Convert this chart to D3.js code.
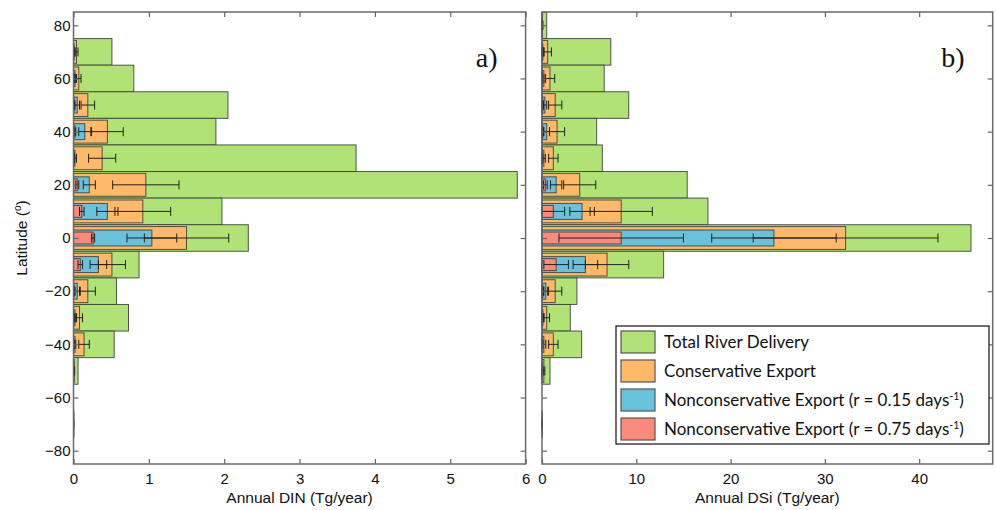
<!DOCTYPE html>
<html><head><meta charset="utf-8">
<script src="https://cdn.jsdelivr.net/npm/d3@7"></script>
<style>body{margin:0;background:#fff}svg{display:block}</style>
</head><body>
<svg id="c" width="996" height="510"></svg>
<script>
// ---- data ----
const latitudes = [80,70,60,50,40,30,20,10,0,-10,-20,-30,-40,-50,-60,-70];
// Panel a) DIN (Tg/year)
const dinTotal   = [0, 0.51, 0.80, 2.05, 1.89, 3.75, 5.89, 1.97, 2.32, 0.87, 0.57, 0.73, 0.54, 0.06, 0, 0.005];
const dinCons    = [0, 0.04, 0.07, 0.19, 0.45, 0.38, 0.96, 0.92, 1.50, 0.51, 0.19, 0.08, 0.14, 0.01, 0, 0.002];
const dinNc015   = [0, 0.01, 0.02, 0.05, 0.15, 0.02, 0.21, 0.45, 1.04, 0.33, 0.05, 0.02, 0.02, 0.005, 0, 0.001];
const dinNc075   = [0, 0.005, 0.005, 0.01, 0.02, 0.01, 0.05, 0.11, 0.26, 0.09, 0.01, 0.005, 0.005, 0, 0, 0];
const dinConsErr = [0, 0.02, 0.03, 0.09, 0.21, 0.18, 0.44, 0.37, 0.56, 0.18, 0.10, 0.04, 0.07, 0.005, 0, 0.002];
const dinNc015Err= [0, 0.01, 0.01, 0.03, 0.08, 0.02, 0.08, 0.14, 0.33, 0.11, 0.03, 0.01, 0.01, 0, 0, 0];
const dinNc075Err= [0, 0.003, 0.003, 0.005, 0.01, 0.005, 0.02, 0.03, 0.02, 0.03, 0.005, 0.003, 0.003, 0, 0, 0];
// Panel b) DSi (Tg/year)
const dsiTotal   = [0.5, 7.3, 6.6, 9.2, 5.8, 6.4, 15.4, 17.6, 45.5, 12.9, 3.7, 3.0, 4.2, 0.85, 0, 0.05];
const dsiCons    = [0.05, 0.6, 0.85, 1.4, 1.6, 1.2, 4.0, 8.4, 32.2, 6.9, 1.4, 0.5, 1.2, 0.2, 0, 0.02];
const dsiNc015   = [0.02, 0.1, 0.2, 0.3, 0.5, 0.2, 1.5, 4.25, 24.6, 4.6, 0.4, 0.1, 0.2, 0.05, 0, 0.01];
const dsiNc075   = [0.01, 0.05, 0.05, 0.1, 0.1, 0.05, 0.35, 1.2, 8.4, 1.5, 0.1, 0.05, 0.05, 0.01, 0, 0];
const dsiConsErr = [0.05, 0.4, 0.5, 0.7, 0.8, 0.5, 1.7, 3.3, 9.8, 2.3, 0.7, 0.3, 0.5, 0.1, 0, 0.02];
const dsiNc015Err= [0.02, 0.1, 0.15, 0.2, 0.3, 0.15, 0.6, 1.3, 6.6, 1.3, 0.2, 0.1, 0.2, 0.05, 0, 0];
const dsiNc075Err= [0, 0.05, 0.05, 0.05, 0.05, 0.05, 0.2, 1.2, 6.6, 1.3, 0.05, 0.05, 0.05, 0, 0, 0];

const yTicks = [-80,-60,-40,-20,0,20,40,60,80];
const dinTicks = [0,1,2,3,4,5,6];
const dsiTicks = [0,10,20,30,40];
const seriesNames = ["Total River Delivery","Conservative Export","Nonconservative Export (r = 0.15 days","Nonconservative Export (r = 0.75 days"];
const colors = ["#b0e276","#ffb968","#68c2dc","#fa8a7a"];

// ---- drawing ----
const svg = d3.select("#c");
const plotTop = 12, plotBottom = 464;
const y = d3.scaleLinear().domain([-85,85]).range([plotBottom, plotTop]);
const halfH = [5, 4.3, 3.0, 2.25]; // bar half-heights in degrees

function panel(x0, x1, xmax, ticks, series, errs, xlabel, tag, showY) {
  const x = d3.scaleLinear().domain([0, xmax]).range([x0, x1]);
  const g = svg.append("g");
  series.forEach((vals, si) => {
    g.selectAll(null).data(latitudes.map((l,i)=>({l, v: vals[i]})).filter(d=>d.v>0))
      .join("rect")
      .attr("x", x(0))
      .attr("y", d => y(d.l + halfH[si]))
      .attr("width", d => x(d.v) - x(0))
      .attr("height", d => y(d.l - halfH[si]) - y(d.l + halfH[si]))
      .attr("fill", colors[si])
      .attr("stroke", "#3a3a3a").attr("stroke-opacity", 0.85).attr("stroke-width", 1);
  });
  const cap = 4.5;
  [[series[3], errs[2]], [series[2], errs[1]], [series[1], errs[0]]].forEach(([vals, e]) => {
    const data = latitudes.map((l,i)=>({l, v: vals[i], e: e[i]})).filter(d=>d.v>0 && d.e>0);
    const eg = g.append("g").attr("stroke", "#222").attr("stroke-width", 1).attr("fill","none");
    eg.selectAll(null).data(data).join("path")
      .attr("d", d => {
        const yy = y(d.l), a = x(Math.max(0, d.v - d.e)), b = x(d.v + d.e);
        return `M${a},${yy}H${b}M${a},${yy-cap}V${yy+cap}M${b},${yy-cap}V${yy+cap}`;
      });
  });
  const fontAx = "15px 'Liberation Sans', Arial, sans-serif";
  const ax = g.append("g").attr("transform", `translate(0,${plotBottom})`)
    .call(d3.axisBottom(x).tickValues(ticks).tickSizeInner(-5).tickSizeOuter(0).tickPadding(9).tickFormat(d3.format("d")));
  const axt = g.append("g").attr("transform", `translate(0,${plotTop})`)
    .call(d3.axisTop(x).tickValues(ticks).tickSizeInner(-5).tickSizeOuter(0).tickFormat(""));
  const ayl = g.append("g").attr("transform", `translate(${x0},0)`)
    .call(d3.axisLeft(y).tickValues(yTicks).tickSizeInner(-5).tickSizeOuter(0).tickPadding(3)
      .tickFormat(showY ? (d => d < 0 ? "\u2212" + Math.abs(d) : d) : ""));
  const ayr = g.append("g").attr("transform", `translate(${x1},0)`)
    .call(d3.axisRight(y).tickValues(yTicks).tickSizeInner(-5).tickSizeOuter(0).tickFormat(""));
  [ax, axt, ayl, ayr].forEach(a => {
    a.select(".domain").remove();
    a.selectAll("line").attr("stroke", "#666").attr("stroke-width", 1.2);
    a.selectAll("text").style("font", fontAx).attr("fill", "#111");
  });
  ax.selectAll("text").attr("dy", "0.71em");
  g.append("rect").attr("x", x0).attr("y", plotTop).attr("width", x1 - x0).attr("height", plotBottom - plotTop)
    .attr("fill", "none").attr("stroke", "#6a6a6a").attr("stroke-width", 1.5);
  g.append("text").attr("x", (x0 + x1) / 2).attr("y", 503).attr("text-anchor", "middle")
    .style("font", "15.5px 'Liberation Sans', Arial, sans-serif").attr("fill", "#111").text(xlabel);
  g.append("text").attr("x", x1 - 28).attr("y", 67).attr("text-anchor", "end")
    .style("font", "28px 'Liberation Serif', 'Times New Roman', serif").attr("fill", "#111").text(tag);
  return x;
}

panel(73.5, 525.6, 6, dinTicks, [dinTotal, dinCons, dinNc015, dinNc075], [dinConsErr, dinNc015Err, dinNc075Err], "Annual DIN (Tg/year)", "a)", true);
panel(542, 992.7, 47.8, dsiTicks, [dsiTotal, dsiCons, dsiNc015, dsiNc075], [dsiConsErr, dsiNc015Err, dsiNc075Err], "Annual DSi (Tg/year)", "b)", false);

const yl = svg.append("text").attr("transform", "translate(27,238) rotate(-90)").attr("text-anchor", "middle")
  .style("font", "15.5px 'Liberation Sans', Arial, sans-serif").attr("fill", "#111");
yl.append("tspan").text("Latitude (");
yl.append("tspan").attr("dy", -6).style("font-size", "10px").text("o");
yl.append("tspan").attr("dy", 6).text(")");

const lg = svg.append("g");
lg.append("rect").attr("x", 616).attr("y", 326).attr("width", 373).attr("height", 118)
  .attr("fill", "#fff").attr("stroke", "#111").attr("stroke-width", 1.2);
seriesNames.forEach((name, i) => {
  const yy = 331 + i * 29;
  lg.append("rect").attr("x", 621).attr("y", yy).attr("width", 34).attr("height", 22)
    .attr("fill", colors[i]).attr("stroke", "#555").attr("stroke-width", 1.2);
  const t = lg.append("text").attr("x", 664).attr("y", yy + 11).attr("dy", "0.35em")
    .style("font", "17px Lato, 'Open Sans', sans-serif").attr("fill", "#111");
  t.append("tspan").text(name);
  if (i >= 2) {
    t.append("tspan").attr("dy", -6).style("font-size", "10.5px").text("-1");
    t.append("tspan").attr("dy", 6).text(")");
  }
});
</script>
</body></html>
